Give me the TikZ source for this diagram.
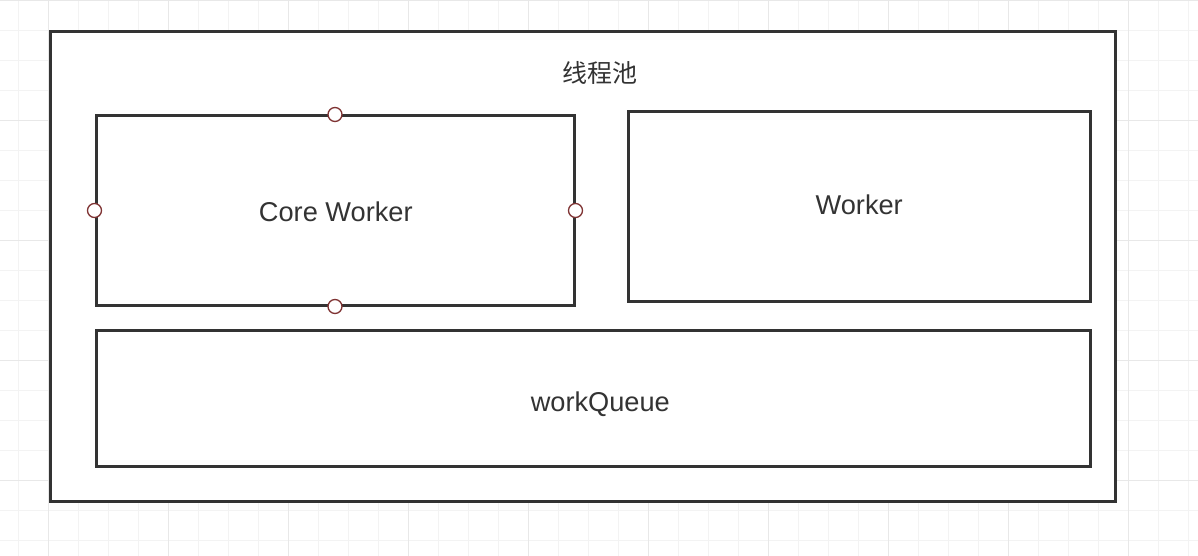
\documentclass[tikz,border=0pt]{standalone}
\usepackage{fontspec}
\setmainfont{Liberation Sans}
\newfontfamily\cjkfont{Noto Sans CJK SC}
\usetikzlibrary{positioning}
\definecolor{inkgray}{HTML}{333333}
\definecolor{portred}{HTML}{7F3333}
\definecolor{gridminor}{HTML}{F3F3F3}
\definecolor{gridmajor}{HTML}{E8E8E8}
\tikzset{
  poolbox/.style={draw=inkgray, line width=1.5pt, fill=white, inner sep=0pt},
  workerbox/.style={draw=inkgray, line width=1.5pt, inner sep=0pt},
  port/.style={circle, draw=portred, line width=0.65pt, fill=white, minimum size=7pt, inner sep=0pt},
  label/.style={font=\fontsize{13.6}{15}\selectfont, text=inkgray, inner sep=0pt, anchor=base}
}

\begin{document}
\begin{tikzpicture}[x=0.5pt,y=-0.5pt]
  \useasboundingbox (0,0) rectangle (1198,556);
  \fill[white] (0,0) rectangle (1198,556);

  % background grid
  \foreach \gx in {18.5,48.5,...,1198} \draw[gridminor, line width=0.5pt] (\gx,0) -- (\gx,556);
  \foreach \gy in {0.5,30.5,...,556} \draw[gridminor, line width=0.5pt] (0,\gy) -- (1198,\gy);
  \foreach \gx in {48.5,168.5,...,1198} \draw[gridmajor, line width=0.5pt] (\gx,0) -- (\gx,556);
  \foreach \gy in {0.5,120.5,...,556} \draw[gridmajor, line width=0.5pt] (0,\gy) -- (1198,\gy);

  \node[poolbox, minimum width=532.5pt, minimum height=234.5pt] (pool) at (582.5,266.5) {};
  \node[label, anchor=center] (title) at (599.5,72.5) {\cjkfont\fontsize{12.5}{15}\selectfont 线程池};

  \node[workerbox, minimum width=239pt, minimum height=94.5pt] (core) at (335,210.5) {};
  \node[workerbox, minimum width=231pt, minimum height=94.5pt] (worker) at (859,206.5) {};
  \node[workerbox, minimum width=497pt, minimum height=68pt] (queue) at (593,398) {};

  \node[label] (core-text) at (335.8,221.7) {Core Worker};
  \node[label] (worker-text) at (859.2,214.7) {Worker};
  \node[label] (queue-text) at (600.3,411) {workQueue};

  \foreach \side/\tag in {north/n,west/w,east/e,south/s}
    \node[port] (core-\tag) at (core.\side) {};
\end{tikzpicture}
\end{document}
